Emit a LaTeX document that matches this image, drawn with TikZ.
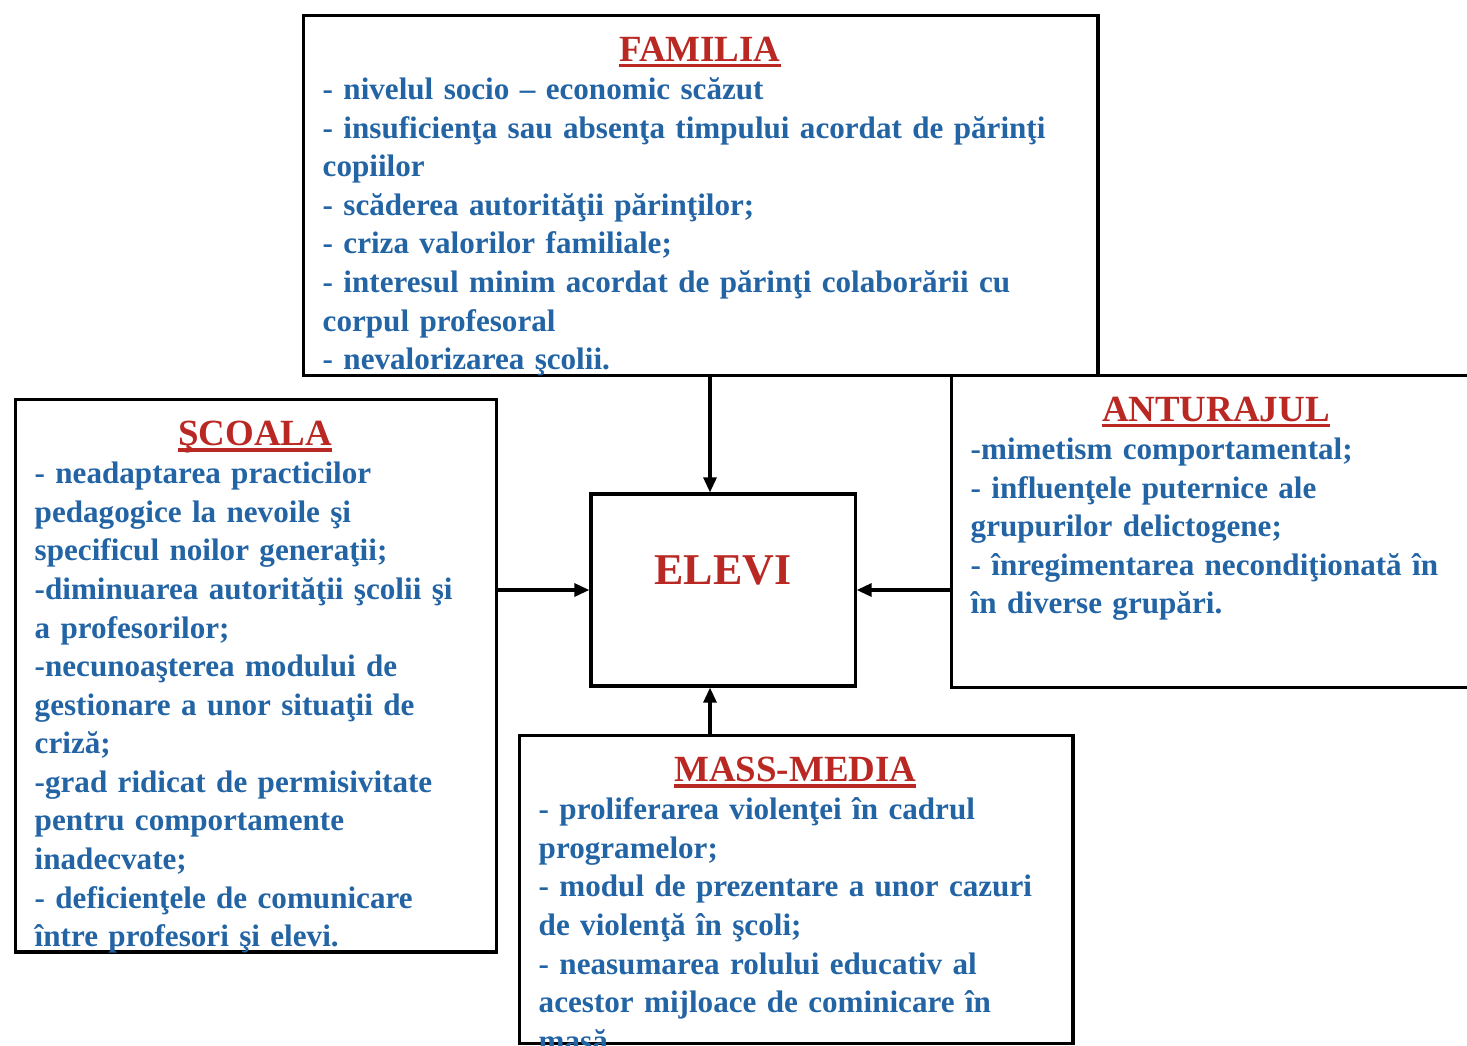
\documentclass[tikz,border=0pt]{standalone}
\usepackage{fontspec}
\setmainfont{Liberation Serif}
\usetikzlibrary{arrows.meta}
\usetikzlibrary{positioning}

\definecolor{titlered}{RGB}{185,40,35}
\definecolor{itemblue}{RGB}{35,100,165}

\newsavebox{\titlebox}
\newcommand{\paneltitle}[1]{{\centering\fontsize{10.5}{12}\selectfont\color{titlered}\sbox{\titlebox}{#1}\rlap{\rule[-1.8pt]{\wd\titlebox}{1pt}}\usebox{\titlebox}\par}}

\tikzset{
	panel/.style={draw, line width=0.9pt, anchor=north west, inner sep=0pt},
	paneltext/.style={anchor=north west, inner xsep=0.2cm, inner ysep=0.22cm, text width=#1, align=left, font=\bfseries\fontsize{8.85}{10.97}\selectfont, text=itemblue},
	link/.style={line width=0.9pt, -{Triangle[length=0.15cm,width=0.13cm]}}
}

\begin{document}
\begin{tikzpicture}[x=0.01cm, y=-0.01cm]
	\useasboundingbox[fill=white] (0,0) rectangle (1467,1045);
	
	% boxes
	\node[panel, minimum width=7.94cm, minimum height=3.60cm] (familia) at (302,14) {};
	\node[panel, minimum width=4.81cm, minimum height=5.52cm] (scoala) at (14,398) {};
	\node[panel, minimum width=5.30cm, minimum height=3.12cm] (anturaj) at (950,374) {};
	\node[panel, minimum width=5.53cm, minimum height=3.08cm] (media) at (518,734) {};
	\node[panel, anchor=center, minimum width=2.64cm, minimum height=1.92cm] (elevi) at (723,590) {};
	\node[font=\bfseries\fontsize{12.5}{14}\selectfont, text=titlered] (elevitext) at (723,570) {ELEVI};
	
	% texts
	\node[paneltext=7.54cm] (familiatext) at (familia.north west) {\paneltitle{FAMILIA}
		- nivelul socio -- economic scăzut\\
		- insuficienţa sau absenţa timpului acordat de părinţi\\
		copiilor\\
		- scăderea autorităţii părinţilor;\\
		- criza valorilor familiale;\\
		- interesul minim acordat de părinţi colaborării cu\\
		corpul profesoral\\
		- nevalorizarea şcolii.};
	\node[paneltext=4.41cm] (scoalatext) at (scoala.north west) {\paneltitle{ŞCOALA}
		- neadaptarea practicilor\\
		pedagogice la nevoile şi\\
		specificul noilor generaţii;\\
		-diminuarea autorităţii şcolii şi\\
		a profesorilor;\\
		-necunoaşterea modului de\\
		gestionare a unor situaţii de\\
		criză;\\
		-grad ridicat de permisivitate\\
		pentru comportamente\\
		inadecvate;\\
		- deficienţele de comunicare\\
		între profesori şi elevi.};
	\node[paneltext=4.90cm] (anturajtext) at (anturaj.north west) {\paneltitle{ANTURAJUL}
		-mimetism comportamental;\\
		- influenţele puternice ale\\
		grupurilor delictogene;\\
		- înregimentarea necondiţionată în\\
		în diverse grupări.};
	\node[paneltext=5.13cm] (mediatext) at (media.north west) {\paneltitle{MASS-MEDIA}
		- proliferarea violenţei în cadrul\\
		programelor;\\
		- modul de prezentare a unor cazuri\\
		de violenţă în şcoli;\\
		- neasumarea rolului educativ al\\
		acestor mijloace de cominicare în\\
		masă.};
	
	% arrows
	\coordinate (axis) at (710,0);
	\draw[link] (familia.south -| axis) -- (elevi.north -| axis);
	\draw[link] (media.north -| axis) -- (elevi.south -| axis);
	\draw[link] (scoala.east |- elevi.west) -- (elevi.west);
	\draw[link] (anturaj.west |- elevi.east) -- (elevi.east);
\end{tikzpicture}
\end{document}
